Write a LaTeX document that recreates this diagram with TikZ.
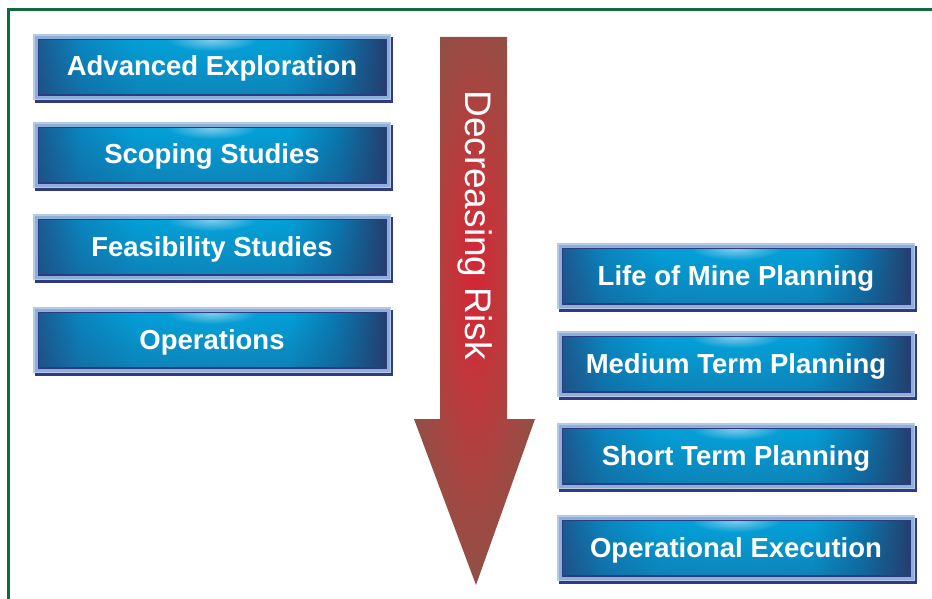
\documentclass[tikz,border=0pt]{standalone}
\usepackage{fontspec}
\setmainfont{Liberation Sans}
\usepackage{tikz}
\usetikzlibrary{backgrounds, shadings, fadings}

\definecolor{khungluc}{HTML}{0E6B3C}
\definecolor{bongxanh}{HTML}{2F3A80}
\definecolor{vienxanh}{HTML}{8EAFD8}
\definecolor{vienxanhnhat}{HTML}{B4CAE6}
\definecolor{viendam}{HTML}{2B3C82}
\definecolor{sanghi}{HTML}{9CD6F0}
\definecolor{bientrai}{HTML}{1A5B92}
\definecolor{xanhvua}{HTML}{0A86C0}
\definecolor{giuacyan}{HTML}{03A0D8}
\definecolor{sangcyan}{HTML}{04A4DB}
\definecolor{xanhphai}{HTML}{0A78B0}
\definecolor{xanhnavy}{HTML}{243F6E}
\definecolor{dodo}{HTML}{D42535}
\definecolor{dovua}{HTML}{C0383C}
\definecolor{donau}{HTML}{A24842}
\definecolor{nau}{HTML}{8E5046}

\pgfdeclarehorizontalshading{hopngang}{100bp}{color(0bp)=(bientrai); color(25bp)=(bientrai); color(31bp)=(xanhvua); color(39bp)=(giuacyan); color(50bp)=(sangcyan); color(61bp)=(giuacyan); color(68bp)=(xanhphai); color(75bp)=(xanhnavy); color(100bp)=(xanhnavy)}
\pgfdeclareradialshading{muitendo}{\pgfpoint{0bp}{3bp}}{color(0bp)=(dodo); color(10bp)=(dovua); color(20bp)=(donau); color(28bp)=(nau); color(80bp)=(nau)}
\tikzfading[name=quangmo, inner color=transparent!20, outer color=transparent!100]
\tikzfading[name=toidan, top color=transparent!100, bottom color=transparent!0]

\tikzset{
  stage/.style={minimum width=358pt, minimum height=66pt, inner sep=0pt, outer sep=0pt,
    text height=20pt, text depth=2pt,
    text=white, font=\fontsize{27.5}{30}\selectfont\bfseries},
  risktext/.style={text=white, font=\fontsize{37}{40}\selectfont, rotate=-90, inner sep=0pt}
}

\begin{document}
\begin{tikzpicture}[x=1pt, y=-1pt]

            \useasboundingbox (0,0) rectangle (932,599);

            % Vẽ khung
            \draw[khungluc, line width=3pt] (8.5,605) -- (8.5,9.5) -- (940,9.5);

            % Vẽ mũi tên
            \shade[shading=muitendo] (440,37) -- (507,37) -- (507,419) -- (535,419)
              -- (476,585) -- (414,419) -- (440,419) -- cycle;
            \node[risktext] (risk) at (475,225) {Decreasing Risk};

            % Các giai đoạn bên trái
            \node[stage] (adv) at (212,67) {Advanced Exploration};
            \node[stage] (scop) at (212,155) {Scoping Studies};
            \node[stage] (feas) at (212,247) {Feasibility Studies};
            \node[stage] (oper) at (212,340) {Operations};

            % Các giai đoạn bên phải
            \node[stage] (lom) at (736,276) {Life of Mine Planning};
            \node[stage] (mtp) at (736,364) {Medium Term Planning};
            \node[stage] (stp) at (736,456) {Short Term Planning};
            \node[stage] (opex) at (736,548) {Operational Execution};

            % Vẽ nền các hộp
            \begin{scope}[on background layer]
              \foreach \n in {adv,scop,feas,oper,lom,mtp,stp,opex} {
                \fill[bongxanh] ([shift={(2pt,-3pt)}]\n.south west) rectangle ([shift={(2pt,-3pt)}]\n.north east);
                \fill[vienxanhnhat] (\n.south west) rectangle (\n.north east);
                \fill[vienxanh] ([shift={(2pt,1pt)}]\n.south west) rectangle ([shift={(-1pt,-2pt)}]\n.north east);
                \shade[shading=hopngang] ([shift={(5.5pt,5pt)}]\n.south west) rectangle ([shift={(-4.5pt,-5.5pt)}]\n.north east);
                \fill[xanhnavy, fill opacity=0.3, path fading=toidan] ([shift={(5.5pt,5pt)}]\n.south west) rectangle ([shift={(-4.5pt,-5.5pt)}]\n.north east);
                \begin{scope}
                  \clip ([shift={(5.5pt,5pt)}]\n.south west) rectangle ([shift={(-4.5pt,-5.5pt)}]\n.north east);
                  \fill[sanghi, path fading=quangmo] ([yshift=-6pt]\n.north) ellipse (45pt and 11pt);
                \end{scope}
                \draw[viendam, line width=1.4pt] ([shift={(5.5pt,5pt)}]\n.south west) rectangle ([shift={(-4.5pt,-5.5pt)}]\n.north east);
              }
            \end{scope}

            \end{tikzpicture}
\end{document}
